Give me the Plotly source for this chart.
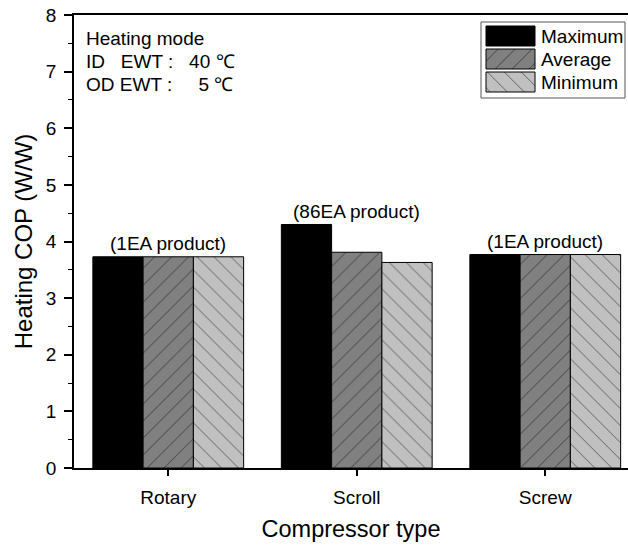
import plotly.graph_objects as go

categories = ["Rotary", "Scroll", "Screw"]
maximum = [3.73, 4.30, 3.77]
average = [3.73, 3.81, 3.77]
minimum = [3.73, 3.63, 3.77]
series_names = ["Maximum", "Average", "Minimum"]
product_labels = ["(1EA product)", "(86EA product)", "(1EA product)"]
y_ticks = [0, 1, 2, 3, 4, 5, 6, 7, 8]

FONT = "Arial, 'Liberation Sans', sans-serif"
W, H = 628, 545
ML, MT, MB = 74, 15, 77
AVG_COLOR = "#808080"
MIN_COLOR = "#c0c0c0"
TXT = 19

fig = go.Figure()

styles = [
    dict(color="black", pattern=dict(shape="")),
    dict(color=AVG_COLOR, pattern=dict(shape="/", fgcolor="black", bgcolor=AVG_COLOR, size=12, solidity=0.08)),
    dict(color=MIN_COLOR, pattern=dict(shape="\\", fgcolor="black", bgcolor=MIN_COLOR, size=12, solidity=0.08)),
]
for name, vals, st in zip(series_names, [maximum, average, minimum], styles):
    fig.add_trace(go.Bar(
        x=categories, y=vals, name=name,
        marker=dict(color=st["color"], pattern=st["pattern"], line=dict(color="black", width=1)),
        showlegend=False, hoverinfo="skip",
    ))

# product labels above each group (anchored to the tallest bar)
for cat, lab, a, b, c in zip(categories, product_labels, maximum, average, minimum):
    fig.add_annotation(x=cat, y=max(a, b, c), text=lab, showarrow=False,
                       yanchor="bottom", yshift=1, font=dict(size=TXT, color="black", family=FONT))

# custom legend on a pixel-coordinate overlay axis
pw = W - ML
fig.add_trace(go.Scatter(x=[None], y=[None], xaxis="x2", yaxis="y2", showlegend=False))
leg_x0, leg_x1, leg_y0 = 481, 625, 22
row_h = 23
sw_x0, sw_x1 = 486, 535
for i, (name, st) in enumerate(zip(series_names, styles)):
    y0 = leg_y0 + 4 + i * row_h
    y1 = y0 + 20
    fp = None
    if st["pattern"]["shape"]:
        fp = dict(shape=st["pattern"]["shape"], fgcolor="black", bgcolor=st["color"], size=12, solidity=0.08)
    fig.add_trace(go.Scatter(
        x=[sw_x0, sw_x1, sw_x1, sw_x0, sw_x0], y=[y0, y0, y1, y1, y0],
        xaxis="x2", yaxis="y2", mode="lines", fill="toself",
        fillcolor=st["color"], fillpattern=fp,
        line=dict(color="black", width=1), showlegend=False, hoverinfo="skip",
    ))
    fig.add_annotation(xref="x2", yref="y2", x=539, y=(y0 + y1) / 2, text=name,
                       showarrow=False, xanchor="left", yanchor="middle",
                       font=dict(size=TXT, color="black", family=FONT))
fig.add_shape(type="rect", xref="x2", yref="y2", x0=leg_x0, x1=leg_x1, y0=leg_y0, y1=leg_y0 + 76,
              line=dict(color="#555555", width=1), fillcolor="rgba(0,0,0,0)", layer="below")

# condition text
cond = ["Heating mode", "ID&nbsp;&nbsp;&nbsp;EWT :&nbsp;&nbsp;&nbsp;40 ℃", "OD EWT :&nbsp;&nbsp;&nbsp;&nbsp;&nbsp;5 ℃"]
for i, t in enumerate(cond):
    fig.add_annotation(xref="x2", yref="y2", x=84, y=38 + i * 23, text=t, showarrow=False,
                       xanchor="left", yanchor="middle", font=dict(size=TXT, color="black", family=FONT))

fig.update_layout(
    width=W, height=H,
    margin=dict(l=ML, r=0, t=MT, b=MB),
    paper_bgcolor="white", plot_bgcolor="white",
    font=dict(family=FONT, color="black"),
    barmode="group", bargap=0.2, bargroupgap=0,
    xaxis=dict(
        range=[-0.5, -0.5 + pw / 188.5], showgrid=False, zeroline=False,
        showline=True, linecolor="black", linewidth=1.5, mirror=True,
        ticks="outside", ticklen=6, tickwidth=1.5, tickcolor="black",
        tickfont=dict(size=19), ticklabelstandoff=5,
        title=dict(text="Compressor type", font=dict(size=23.5), standoff=14),
    ),
    yaxis=dict(
        range=[0, 8], tickvals=y_ticks, showgrid=False, zeroline=False,
        showline=True, linecolor="black", linewidth=1.5,
        ticks="outside", ticklen=8, tickwidth=1.5, tickcolor="black",
        tickfont=dict(size=19), ticklabelstandoff=4,
        minor=dict(dtick=0.5, ticks="outside", ticklen=4, tickwidth=1.2, tickcolor="black"),
        title=dict(text="Heating COP (W/W)", font=dict(size=24), standoff=6),
    ),
    xaxis2=dict(overlaying="x", range=[ML, W], visible=False, fixedrange=True),
    yaxis2=dict(overlaying="y", range=[H - MB, MT], visible=False, fixedrange=True, anchor="x2"),
    hovermode=False,
)

fig.write_html("out.html")
